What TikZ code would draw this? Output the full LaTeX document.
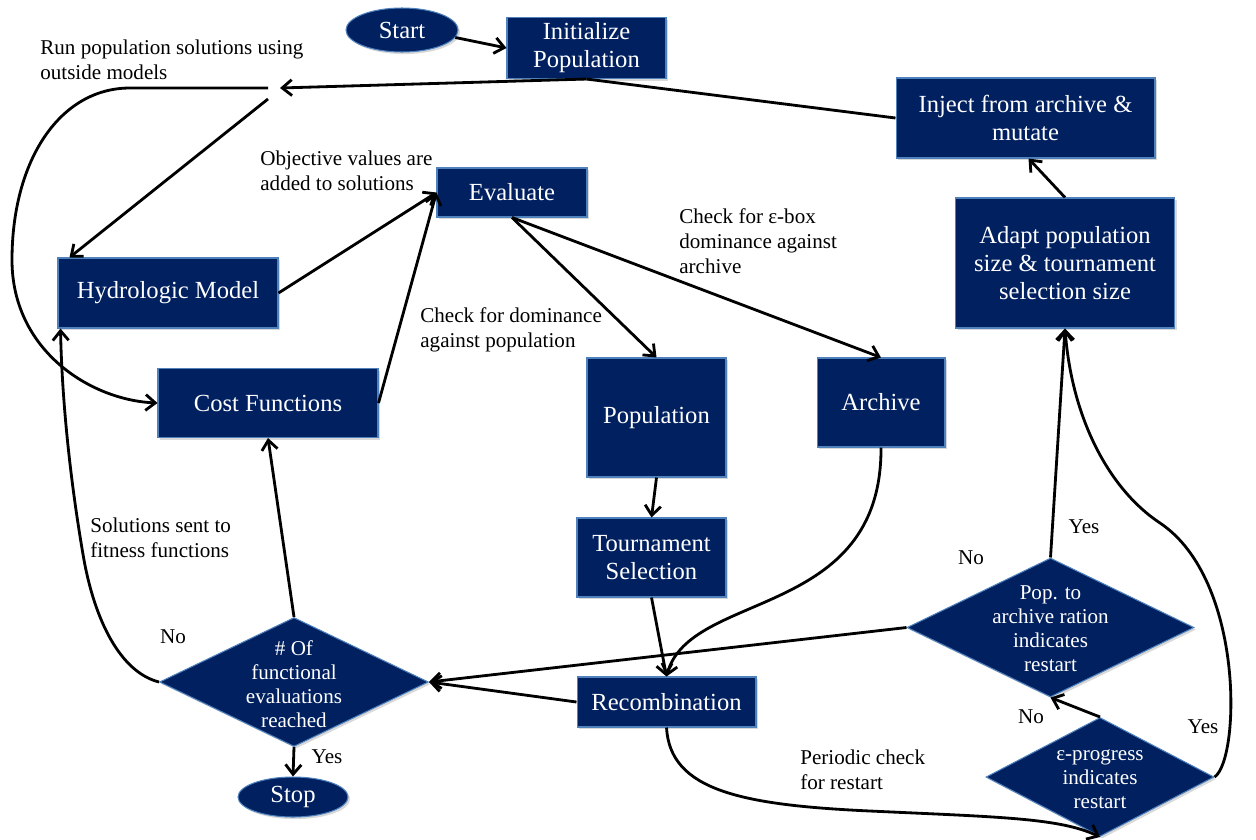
\documentclass[tikz,border=0pt]{standalone}
\usepackage{fontspec}
\setmainfont{Liberation Serif}
\usetikzlibrary{shapes.geometric,arrows.meta,calc,shadows}
\definecolor{navy}{RGB}{0,32,96}
\definecolor{edgeblue}{RGB}{79,129,189}
\begin{document}
\begin{tikzpicture}[x=0.02cm,y=-0.02cm,
 box/.style={rectangle, draw=edgeblue, line width=0.6pt, fill=navy, text=white,
   font=\fontsize{14}{16}\selectfont, align=center, inner sep=2pt,
   drop shadow={shadow xshift=1.2pt, shadow yshift=-1.2pt, opacity=0.3}},
 oval/.style={ellipse, draw=edgeblue, line width=0.6pt, fill=navy, text=white,
   font=\fontsize{14}{16}\selectfont, inner sep=0pt,
   drop shadow={shadow xshift=1.2pt, shadow yshift=-1.2pt, opacity=0.3}},
 dia/.style={diamond, draw=edgeblue, line width=0.6pt, fill=navy, inner sep=0pt,
   drop shadow={shadow xshift=1.2pt, shadow yshift=-1.2pt, opacity=0.3}},
 diatext/.style={text=white, font=\fontsize{12}{13.7}\selectfont, align=center, inner sep=0pt},
 lab/.style={font=\fontsize{12}{14.2}\selectfont, align=left, anchor=west, inner sep=0pt},
 yn/.style={font=\fontsize{12}{14.2}\selectfont, inner sep=0pt},
 conn/.style={line width=1.6pt, -{Straight Barb[length=5.5pt,width=9pt,line width=1.6pt]}},
 plainline/.style={line width=1.6pt}
]
\useasboundingbox (0,0) rectangle (1256,839);

% nodes
\node[oval, minimum width=2.24cm, minimum height=0.88cm] (start) at (402,30) {Start};
\node[box, minimum width=3.18cm, minimum height=1.22cm] (init) at (586.5,48) {Initialize\\Population};
\node[box, minimum width=5.18cm, minimum height=1.6cm] (inject) at (1025.5,118) {Inject from archive \&\\mutate};
\node[box, minimum width=4.38cm, minimum height=2.6cm] (adapt) at (1065,263) {Adapt population\\size \& tournament\\selection size};
\node[box, minimum width=3.0cm, minimum height=0.98cm] (eval) at (512,192.5) {Evaluate};
\node[box, minimum width=4.4cm, minimum height=1.4cm] (hydro) at (168,293) {Hydrologic Model};
\node[box, minimum width=4.4cm, minimum height=1.38cm] (cost) at (268,403) {Cost Functions};
\node[box, minimum width=2.78cm, minimum height=2.38cm] (pop) at (656.5,417.5) {Population};
\node[box, minimum width=2.56cm, minimum height=1.78cm] (arch) at (881,402.5) {Archive};
\node[box, minimum width=2.98cm, minimum height=1.58cm] (tour) at (651.5,557.5) {Tournament\\Selection};
\node[box, minimum width=3.58cm, minimum height=1.0cm] (recomb) at (666.5,702) {Recombination};

\node[dia, minimum width=5.38cm, minimum height=2.58cm] (d1) at (294,682) {};
\node[diatext] (d1t) at (294,684) {\# Of\\functional\\evaluations\\reached};
\node[dia, minimum width=5.74cm, minimum height=2.78cm] (d2) at (1050.5,627.5) {};
\node[diatext] (d2t) at (1050.5,629) {Pop. to\\archive ration\\indicates\\restart};
\node[dia, minimum width=4.56cm, minimum height=2.38cm] (d3) at (1100,777) {};
\node[diatext] (d3t) at (1100,779) {ε-progress\\indicates\\restart};
\node[oval, minimum width=2.2cm, minimum height=0.8cm] (stop) at (293,797) {Stop};

% labels
\node[lab] (l1) at (40,60) {Run population solutions using\\outside models};
\node[lab] (l2) at (260,170.5) {Objective values are\\added to solutions};
\node[lab] (l3) at (679,241) {Check for ε-box\\dominance against\\archive};
\node[lab] (l4) at (420,329.5) {Check for dominance\\against population};
\node[lab] (l5) at (90,538) {Solutions sent to\\fitness functions};
\node[lab] (l6) at (800,769.5) {Periodic check\\for restart};
\node[yn] (no1) at (173,637) {No};
\node[yn] (yes1) at (327,757) {Yes};
\node[yn] (no2) at (971,558) {No};
\node[yn] (yes2) at (1084,527) {Yes};
\node[yn] (no3) at (1031,717) {No};
\node[yn] (yes3) at (1203,727) {Yes};

% hub coordinates
\coordinate (hub) at (280,88);
\coordinate (hubA) at (268,88);
\coordinate (hubB) at (268,99);

% connectors
\draw[conn] (start.-8) -- (init.west);
\draw[conn] (init.south) -- (hub);
\draw[plainline] (inject.west) -- (init.south);
\draw[conn] (hubA) -- (130,88) .. controls (60,88) and (12,160) .. (12,260)
  .. controls (12,350) and (90,400) .. (cost.west);
\draw[conn] (hubB) -- ($(hydro.north west)+(12,0)$);
\draw[conn] (hydro.east) -- (eval.west);
\draw[conn] (cost.east) -- (eval.west);
\draw[conn] (eval.south) -- (pop.north);
\draw[conn] (eval.south) -- (arch.north);
\draw[conn] (pop.south) -- (tour.north);
\draw[conn] (tour.south) -- (recomb.north);
\draw[conn] (arch.south) .. controls (882,620) and (690,590) .. (recomb.north);
\draw[conn] (recomb.west) -- (d1.east);
\draw[conn] (d2.west) -- (d1.east);
\draw[conn] (d1.north) -- (cost.south);
\draw[conn] (d1.west) .. controls (120,672) and (95,620) .. (84,560)
  .. controls (70,480) and (62,400) .. ($(hydro.south west)+(3,0)$);
\draw[conn] (d1.south) -- (stop.north);
\draw[conn] (recomb.south) .. controls (670,790) and (740,805) .. (870,811)
  .. controls (1000,817) and (1060,818) .. (d3.south);
\draw[conn] (d3.north) -- (d2.south);
\draw[conn] (d3.east) .. controls (1240,760) and (1245,580) .. (1160,523)
  .. controls (1110,490) and (1072,420) .. (adapt.south);
\draw[conn] (d2.north) -- (adapt.south);
\draw[conn] (adapt.north) -- ($(inject.south)+(3,0)$);
\end{tikzpicture}
\end{document}
